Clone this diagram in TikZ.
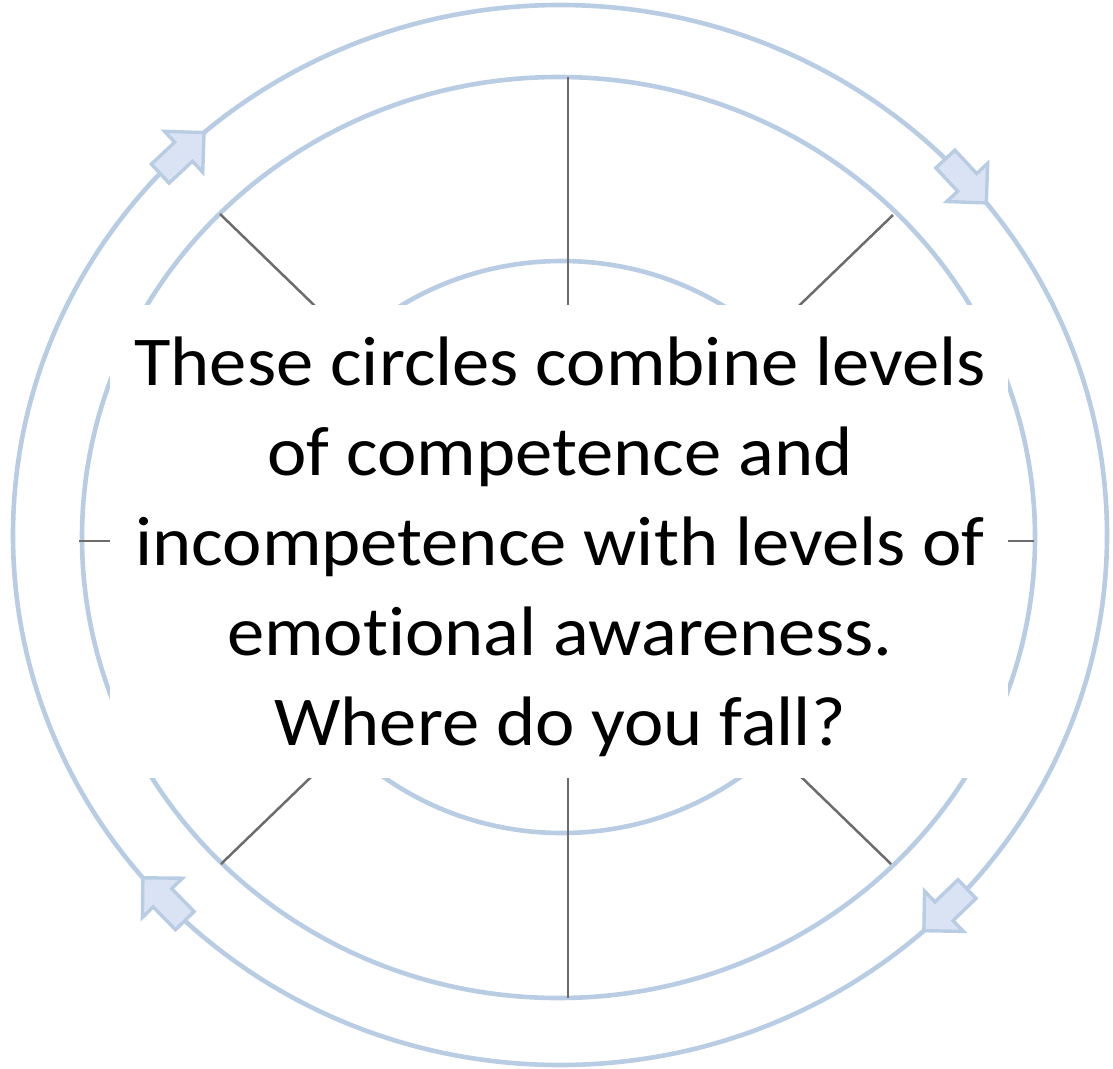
\documentclass[tikz,border=0pt]{standalone}
\usepackage{fontspec}
\setmainfont{Carlito}[Ligatures=NoCommon]
\usetikzlibrary{calc}
\definecolor{ringblue}{RGB}{184,204,228}
\definecolor{arrowfillc}{RGB}{218,227,243}
\definecolor{spokegray}{RGB}{108,108,108}
\tikzset{
  ringline/.style={draw=ringblue, line width=4.6pt},
  spokeline/.style={draw=spokegray, line width=2.5pt},
  blockarr/.style={draw=ringblue, fill=arrowfillc, line width=3.4pt, line join=miter},
  textbox/.style={fill=white, draw=none, minimum width=898pt, minimum height=473pt, inner sep=0pt},
  bigtext/.style={align=center, font=\fontsize{70}{90}\selectfont, inner sep=0pt, xscale=1.066}
}
\newcommand\mybarrow[2]{%
  \coordinate (tl) at ($(#2)!60pt!(#1)$);
  \coordinate (hd) at ($(#2)!28pt!(#1)$);
  \draw[blockarr] ($(tl)!13pt!90:(#2)$) -- ($(hd)!13pt!90:(#2)$) -- ($(hd)!28pt!90:(#2)$) -- (#2)
    -- ($(hd)!28pt!-90:(#2)$) -- ($(hd)!13pt!-90:(#2)$) -- ($(tl)!13pt!-90:(#2)$) -- cycle;
}
\begin{document}
\begin{tikzpicture}[x=1pt,y=-1pt]
\useasboundingbox (0,0) rectangle (1113,1068);
% rings
\coordinate (co) at (560,535);
\coordinate (cm) at (558.5,537.5);
\coordinate (ci) at (562,547);
\draw[ringline] (co) ellipse [x radius=547pt, y radius=530pt];
\draw[ringline] (cm) ellipse [x radius=476.5pt, y radius=460.5pt];
\draw[ringline] (ci) ellipse [x radius=300pt, y radius=286pt];
% spokes
\coordinate (vt) at (568,77);
\coordinate (vb) at (568,998);
\coordinate (hl) at (79,541);
\coordinate (hr) at (1034,541);
\coordinate (dtl) at (220,214);
\coordinate (dbr) at (891,864);
\coordinate (dtr) at (893,215);
\coordinate (dbl) at (221,864);
\draw[spokeline] (vt) -- (vb);
\draw[spokeline] (hl) -- (hr);
\draw[spokeline] (dtl) -- (dbr);
\draw[spokeline] (dtr) -- (dbl);
% arrows on outer ring
\coordinate (a1t) at ({560+547*cos(137.4)},{535-530*sin(137.4)});
\coordinate (a1h) at ({560+547*cos(130.6)},{535-530*sin(130.6)});
\coordinate (a2t) at ({560+547*cos(45.4)},{535-530*sin(45.4)});
\coordinate (a2h) at ({560+547*cos(38.8)},{535-530*sin(38.8)});
\coordinate (a3t) at ({560+547*cos(-41.9)},{535-530*sin(-41.9)});
\coordinate (a3h) at ({560+547*cos(-48.3)},{535-530*sin(-48.3)});
\coordinate (a4t) at ({560+547*cos(226.7)},{535-530*sin(226.7)});
\coordinate (a4h) at ({560+547*cos(220.3)},{535-530*sin(220.3)});
\mybarrow{a1t}{a1h}
\mybarrow{a2t}{a2h}
\mybarrow{a3t}{a3h}
\mybarrow{a4t}{a4h}
% text box
\node[textbox] (box) at (559,541.5) {};
\node[bigtext] (txt) at (560,547) {These circles combine levels\\of competence and\\incompetence with levels of\\emotional awareness.\\Where do you fall?};
\end{tikzpicture}
\end{document}
